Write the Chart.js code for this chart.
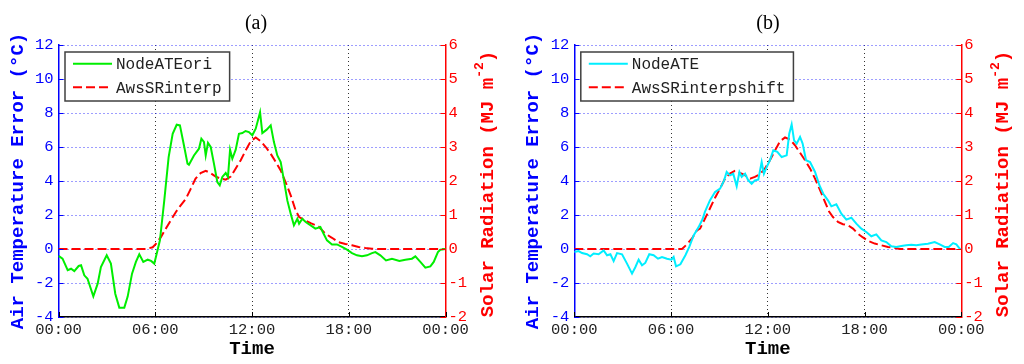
<!DOCTYPE html>
<html>
<head>
<meta charset="utf-8">
<script src="https://cdn.jsdelivr.net/npm/chart.js@4.4.1/dist/chart.umd.min.js"></script>
<style>
  body { margin: 0; background: #fff; }
  #wrap { display: flex; width: 1024px; height: 364px; }
  canvas { display: block; }
</style>
</head>
<body>
<div id="wrap">
  <canvas id="chartA" width="512" height="364"></canvas>
  <canvas id="chartB" width="512" height="364"></canvas>
</div>
<script>
// x axis: hours of the day (0-24)
const xTickLabels = ["00:00", "06:00", "12:00", "18:00", "00:00"];

// (a) node air temperature error, original (deg C)
const aNodeTime = [0, 0.25, 0.57, 0.78, 0.98, 1.25, 1.4, 1.6, 1.8, 2.16, 2.43, 2.63, 2.99, 3.25, 3.52, 3.77, 4.08, 4.29, 4.56, 4.8, 5.01, 5.26, 5.53, 5.74, 5.94, 6.04, 6.29, 6.56, 6.83, 7.08, 7.33, 7.53, 7.8, 8.0, 8.09, 8.4, 8.71, 8.86, 9.02, 9.13, 9.27, 9.44, 9.64, 9.85, 10.0, 10.16, 10.37, 10.51, 10.64, 10.78, 10.99, 11.19, 11.4, 11.6, 11.81, 12.02, 12.23, 12.37, 12.5, 12.64, 12.91, 13.16, 13.36, 13.57, 13.78, 13.98, 14.19, 14.4, 14.6, 14.81, 14.92, 15.12, 15.33, 15.64, 15.93, 16.24, 16.44, 16.65, 16.96, 17.27, 17.58, 17.89, 18.2, 18.51, 18.82, 19.13, 19.44, 19.65, 19.96, 20.31, 20.68, 21.14, 21.51, 21.92, 22.13, 22.44, 22.75, 23.06, 23.27, 23.53, 23.68, 24];
const aNodeErr = [-0.4, -0.57, -1.25, -1.16, -1.3, -1.0, -0.96, -1.55, -1.75, -2.78, -2.04, -1.06, -0.37, -0.86, -2.63, -3.45, -3.45, -2.8, -1.45, -0.76, -0.31, -0.76, -0.63, -0.7, -0.86, -0.47, 0.51, 2.86, 5.41, 6.78, 7.31, 7.27, 6.0, 5.02, 4.96, 5.5, 5.9, 6.49, 6.3, 5.5, 6.24, 6.0, 5.02, 3.94, 3.75, 4.24, 4.47, 4.24, 5.84, 5.31, 5.84, 6.78, 6.82, 6.94, 6.88, 6.69, 7.08, 7.57, 8.04, 6.82, 7.02, 7.27, 6.29, 5.5, 5.12, 4.04, 2.86, 2.08, 1.39, 1.78, 1.49, 1.78, 1.59, 1.39, 1.2, 1.29, 0.9, 0.51, 0.27, 0.27, 0.12, -0.04, -0.24, -0.37, -0.43, -0.37, -0.24, -0.18, -0.37, -0.67, -0.57, -0.71, -0.63, -0.57, -0.43, -0.76, -1.1, -1.02, -0.76, -0.18, -0.04, 0];

// (a) AWS solar radiation, interpolated (MJ m-2)
const aSRTime = [0, 5.42, 5.84, 6.04, 6.35, 6.66, 6.97, 7.28, 7.59, 7.9, 8.2, 8.5, 8.81, 9.13, 9.44, 9.75, 10.06, 10.37, 10.68, 10.99, 11.3, 11.61, 11.92, 12.23, 12.54, 12.85, 13.16, 13.47, 13.78, 14.08, 14.4, 14.71, 14.92, 15.23, 15.64, 15.95, 16.13, 16.55, 16.96, 17.37, 17.79, 18.2, 18.61, 19.03, 19.44, 19.8, 24];
const aSR = [0, 0, 0.05, 0.15, 0.35, 0.6, 0.85, 1.09, 1.29, 1.48, 1.77, 2.07, 2.23, 2.3, 2.23, 2.13, 2.07, 2.04, 2.13, 2.37, 2.61, 2.9, 3.17, 3.28, 3.17, 3.0, 2.8, 2.56, 2.31, 1.97, 1.58, 1.13, 0.94, 0.86, 0.76, 0.7, 0.66, 0.45, 0.33, 0.2, 0.15, 0.11, 0.06, 0.03, 0.01, 0, 0];

// (b) node air temperature error (deg C)
const bNodeTime = [0, 0.27, 0.48, 0.79, 0.99, 1.2, 1.51, 1.82, 2.03, 2.24, 2.44, 2.65, 2.96, 3.27, 3.58, 3.79, 3.99, 4.2, 4.4, 4.65, 4.92, 5.19, 5.44, 5.75, 6.02, 6.16, 6.31, 6.58, 6.89, 7.13, 7.4, 7.71, 7.95, 8.1, 8.41, 8.73, 9.04, 9.29, 9.45, 9.66, 9.86, 10.07, 10.24, 10.38, 10.59, 10.79, 11.0, 11.2, 11.41, 11.62, 11.76, 11.93, 12.13, 12.34, 12.59, 12.86, 13.17, 13.33, 13.48, 13.63, 13.79, 14.0, 14.16, 14.37, 14.62, 14.93, 15.2, 15.44, 15.73, 15.94, 16.25, 16.56, 16.87, 17.18, 17.49, 17.8, 18.11, 18.42, 18.73, 19.04, 19.35, 19.66, 19.97, 20.28, 20.59, 20.9, 21.21, 21.52, 21.93, 22.35, 22.66, 22.97, 23.22, 23.49, 23.69, 23.9, 24];
const bNodeErr = [-0.18, -0.12, -0.24, -0.31, -0.43, -0.27, -0.31, -0.08, -0.37, -0.31, -0.71, -0.24, -0.31, -0.86, -1.45, -1.06, -0.63, -0.96, -0.82, -0.31, -0.37, -0.57, -0.47, -0.57, -0.63, -0.47, -1.02, -0.9, -0.37, 0.12, 0.8, 1.29, 1.75, 2.18, 2.86, 3.35, 3.55, 4.04, 4.53, 4.33, 4.43, 3.69, 4.53, 4.24, 4.43, 4.04, 3.84, 4.04, 4.08, 5.12, 4.43, 4.82, 5.22, 5.8, 5.71, 5.41, 5.51, 6.78, 7.33, 6.39, 6.2, 6.59, 6.2, 5.22, 5.12, 4.53, 3.75, 3.25, 2.86, 2.51, 2.63, 2.08, 1.73, 1.84, 1.49, 1.2, 1.0, 0.75, 0.86, 0.51, 0.41, 0.16, 0.12, 0.18, 0.22, 0.25, 0.22, 0.27, 0.31, 0.41, 0.27, 0.12, 0.12, 0.35, 0.27, 0.02, 0];

// (b) AWS solar radiation, interpolated and shifted (MJ m-2)
const bSRTime = [0, 6.68, 6.99, 7.3, 7.61, 7.8, 8.1, 8.41, 8.73, 9.04, 9.35, 9.65, 9.96, 10.27, 10.59, 10.9, 11.2, 11.52, 11.83, 12.13, 12.45, 12.76, 13.07, 13.38, 13.69, 14.0, 14.31, 14.62, 14.93, 15.24, 15.55, 15.8, 16.04, 16.35, 16.66, 16.97, 17.28, 17.59, 17.9, 18.21, 18.63, 19.04, 19.45, 19.87, 20.18, 24];
const bSR = [0, 0, 0.14, 0.31, 0.55, 0.6, 0.89, 1.19, 1.51, 1.78, 2.07, 2.22, 2.3, 2.24, 2.17, 2.07, 2.12, 2.2, 2.37, 2.61, 2.9, 3.17, 3.28, 3.22, 3.05, 2.83, 2.61, 2.37, 2.07, 1.73, 1.38, 1.1, 0.94, 0.8, 0.73, 0.7, 0.6, 0.45, 0.34, 0.24, 0.16, 0.11, 0.06, 0.03, 0, 0];

const MONO = "'Liberation Mono', 'Courier New', monospace";

function toPoints(xs, ys) {
  return xs.map((x, i) => ({ x: x, y: ys[i] }));
}

// legend drawn as a framed box inside the plot, like the matlab one
const boxLegend = {
  id: "boxLegend",
  afterDraw(chart) {
    const ctx = chart.ctx;
    const area = chart.chartArea;
    const left = area.left + 6.5;
    const top = 52;
    ctx.save();
    ctx.font = "16px " + MONO;
    const textW = Math.max(...chart.data.datasets.map(d => ctx.measureText(d.label).width));
    const w = 51 + textW + 8;
    const h = 49;
    ctx.fillStyle = "#fff";
    ctx.fillRect(left, top, w, h);
    ctx.strokeStyle = "#404040";
    ctx.lineWidth = 1.5;
    ctx.strokeRect(left, top, w, h);
    chart.data.datasets.forEach((ds, i) => {
      const y = top + 11.7 + i * 23.6;
      ctx.strokeStyle = ds.borderColor;
      ctx.lineWidth = ds.borderWidth;
      ctx.setLineDash(ds.borderDash || []);
      ctx.beginPath();
      ctx.moveTo(left + 8, y);
      ctx.lineTo(left + 47, y);
      ctx.stroke();
      ctx.setLineDash([]);
      ctx.fillStyle = "#222";
      ctx.textBaseline = "middle";
      ctx.fillText(ds.label, left + 51, y + 1);
    });
    ctx.restore();
  }
};

// small inward tick marks + right axis title reading bottom-to-top
const extras = {
  id: "extras",
  afterDraw(chart, args, opts) {
    const ctx = chart.ctx;
    const area = chart.chartArea;
    const sx = chart.scales.x, sy = chart.scales.y, sy1 = chart.scales.y1;
    ctx.save();
    ctx.lineWidth = 1;
    ctx.strokeStyle = "#0000ff";
    sy.ticks.forEach(t => {
      const p = Math.round(sy.getPixelForValue(t.value)) + 0.5;
      ctx.beginPath(); ctx.moveTo(area.left, p); ctx.lineTo(area.left + 5, p); ctx.stroke();
    });
    ctx.strokeStyle = "#ff0000";
    sy1.ticks.forEach(t => {
      const p = Math.round(sy1.getPixelForValue(t.value)) + 0.5;
      ctx.beginPath(); ctx.moveTo(area.right - 5, p); ctx.lineTo(area.right, p); ctx.stroke();
    });
    ctx.strokeStyle = "#000";
    sx.ticks.forEach(t => {
      const p = Math.round(sx.getPixelForValue(t.value)) + 0.5;
      ctx.beginPath(); ctx.moveTo(p, area.bottom - 5); ctx.lineTo(p, area.bottom); ctx.stroke();
    });

    // right title
    const big = "bold 19px " + MONO;
    const small = "bold 13px " + MONO;
    const part1 = "Solar Radiation (MJ m";
    const sup = "-2";
    const part2 = ")";
    ctx.font = big;
    const w1 = ctx.measureText(part1).width;
    const w3 = ctx.measureText(part2).width;
    ctx.font = small;
    const w2 = ctx.measureText(sup).width;
    const total = w1 + w2 + w3;
    ctx.translate(opts.x, opts.y);
    ctx.rotate(-Math.PI / 2);
    ctx.fillStyle = "#ff0000";
    ctx.textBaseline = "middle";
    ctx.textAlign = "left";
    let cx = -total / 2;
    ctx.font = big;
    ctx.fillText(part1, cx, 0);
    cx += w1;
    ctx.font = small;
    ctx.fillText(sup, cx, -8);
    cx += w2;
    ctx.font = big;
    ctx.fillText(part2, cx, 0);
    ctx.restore();
  }
};

function makeChart(id, cfg) {
  const ctx = document.getElementById(id).getContext("2d");
  return new Chart(ctx, {
    type: "line",
    data: {
      datasets: [
        {
          label: cfg.nodeLabel,
          data: toPoints(cfg.nodeTime, cfg.nodeErr),
          borderColor: cfg.nodeColor,
          borderWidth: 2,
          pointRadius: 0,
          tension: 0,
          yAxisID: "y",
        },
        {
          label: cfg.srLabel,
          data: toPoints(cfg.srTime, cfg.sr),
          borderColor: "#ff0000",
          borderWidth: 2,
          borderDash: [9, 4],
          pointRadius: 0,
          tension: 0,
          yAxisID: "y1",
        },
      ],
    },
    options: {
      responsive: false,
      animation: false,
      devicePixelRatio: 1,
      layout: { padding: 0 },
      plugins: {
        legend: { display: false },
        tooltip: { enabled: false },
        title: {
          display: true,
          text: cfg.title,
          color: "#000",
          font: { family: "'Liberation Serif', 'Times New Roman', serif", size: 20, weight: "normal" },
          padding: { top: 12, bottom: 9 },
        },
        extras: { x: cfg.rightTitleX, y: 184 },
      },
      scales: {
        x: {
          type: "linear",
          min: 0,
          max: 24,
          afterFit: s => { s.height = 47; },
          ticks: {
            stepSize: 6,
            maxRotation: 0,
            padding: 4,
            color: "#222",
            font: { family: MONO, size: 15.5 },
            callback: (v, i) => xTickLabels[i],
          },
          grid: { color: "#333", lineWidth: 1, drawTicks: false },
          border: { display: true, color: "#000", width: 1.5, dash: [1, 3] },
          title: {
            display: true,
            text: "Time",
            color: "#000",
            font: { family: MONO, size: 19, weight: "bold" },
            padding: { top: 0, bottom: 3.6 },
          },
        },
        y: {
          position: "left",
          min: -4,
          max: 12,
          afterFit: s => { s.width = cfg.leftWidth; },
          ticks: {
            stepSize: 2,
            padding: 5,
            color: "#0000ff",
            font: { family: MONO, size: 15.5 },
          },
          grid: { color: "#3a3aff", lineWidth: 1, drawTicks: false },
          border: { display: true, color: "#0000ff", width: 1.5, dash: [1, 3] },
          title: {
            display: true,
            text: "Air Temperature Error (°C)",
            color: "#0000ff",
            font: { family: MONO, size: 19, weight: "bold" },
            padding: { top: cfg.leftTitlePad, bottom: 0 },
          },
        },
        y1: {
          position: "right",
          min: -2,
          max: 6,
          afterFit: s => { s.width = cfg.rightWidth; },
          ticks: {
            stepSize: 1,
            padding: 3,
            color: "#ff0000",
            font: { family: MONO, size: 15.5 },
          },
          grid: { display: false, drawTicks: false },
          border: { display: true, color: "#ff0000", width: 1.5 },
        },
      },
    },
    plugins: [extras, boxLegend],
  });
}

makeChart("chartA", {
  title: "(a)",
  nodeLabel: "NodeATEori",
  nodeColor: "#00ee00",
  nodeTime: aNodeTime,
  nodeErr: aNodeErr,
  srLabel: "AwsSRinterp",
  srTime: aSRTime,
  sr: aSR,
  leftWidth: 58.5,
  rightWidth: 66.5,
  leftTitlePad: 6.6,
  rightTitleX: 488,
});

makeChart("chartB", {
  title: "(b)",
  nodeLabel: "NodeATE",
  nodeColor: "#00eeff",
  nodeTime: bNodeTime,
  nodeErr: bNodeErr,
  srLabel: "AwsSRinterpshift",
  srTime: bSRTime,
  sr: bSR,
  leftWidth: 62.3,
  rightWidth: 62.7,
  leftTitlePad: 10.3,
  rightTitleX: 491.7,
});
</script>
</body>
</html>
